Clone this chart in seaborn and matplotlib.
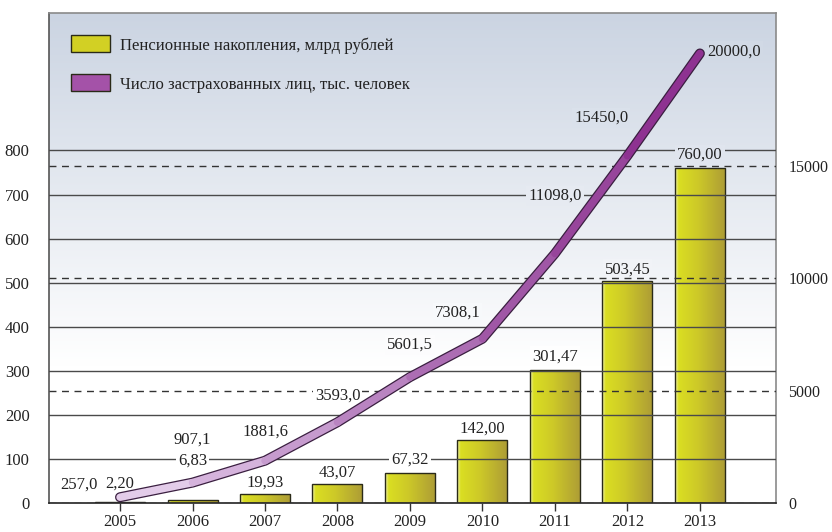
import numpy as np
import matplotlib
matplotlib.use("Agg")
import matplotlib.pyplot as plt
import seaborn as sns
from matplotlib.colors import LinearSegmentedColormap, to_rgb
from matplotlib.collections import LineCollection
from matplotlib.patches import Patch

years = ["2005", "2006", "2007", "2008", "2009", "2010", "2011", "2012", "2013"]
savings = [2.20, 6.83, 19.93, 43.07, 67.32, 142.00, 301.47, 503.45, 760.00]
insured = [257.0, 907.1, 1881.6, 3593.0, 5601.5, 7308.1, 11098.0, 15450.0, 20000.0]
savings_text = ["2,20", "6,83", "19,93", "43,07", "67,32", "142,00", "301,47", "503,45", "760,00"]
insured_text = ["257,0", "907,1", "1881,6", "3593,0", "5601,5", "7308,1", "11098,0", "15450,0", "20000,0"]
left_ticks = [0, 100, 200, 300, 400, 500, 600, 700, 800]
right_ticks = [0, 5000, 10000, 15000]
legend_labels = ["Пенсионные накопления, млрд рублей", "Число застрахованных лиц, тыс. человек"]

plt.rcParams["font.family"] = ["Liberation Serif", "DejaVu Serif"]
fs = 12
plt.rcParams["font.size"] = fs
text_col = "#222222"

fig = plt.figure(figsize=(8.32, 5.32), dpi=100)
ax = fig.add_axes([49 / 832, 29 / 532, 727 / 832, 490 / 532])

# background: white at bottom -> light blue-grey at top
top_rgb = np.array(to_rgb("#cbd4e2"))
def bg_color(frac):
    t = np.clip((frac - 0.28) / 0.72, 0, 1)
    return tuple(1 - t * (1 - top_rgb))

fr = np.linspace(0, 1, 256)
bg = np.array([bg_color(f) for f in fr])[::-1].reshape(256, 1, 3)
ax.imshow(bg, extent=(0, 1, 0, 1), transform=ax.transAxes, aspect="auto", zorder=0)

# bars
sns.barplot(x=years, y=savings, ax=ax, width=0.69, color="#cccc22",
            edgecolor="#2a2a18", linewidth=1.0, zorder=1.2)
bar_cmap = LinearSegmentedColormap.from_list(
    "bar", [(0, "#f2f2b0"), (0.07, "#dade22"), (0.45, "#cdc928"), (1, "#ad9c36")])
grad = np.linspace(0, 1, 128).reshape(1, -1)
for p in ax.patches:
    x0, y0 = p.get_x(), p.get_y()
    im = ax.imshow(grad, cmap=bar_cmap, aspect="auto", zorder=1.1,
                   extent=(x0, x0 + p.get_width(), y0, y0 + p.get_height()))
    im.set_clip_path(p)
    p.set_facecolor("none")

ax.set_xlim(-0.98, 9.05)
ax.set_ylim(0, 1112)
ax.set_yticks(left_ticks)
ax.set_axisbelow(False)
ax.yaxis.grid(True, color="#4a4a4a", lw=1.0)
ax.xaxis.grid(False)

ax_h = 490

bar_dy = [18, 39, 12, 11, 14, 12, 14, 12, 13]
for i, (v, s) in enumerate(zip(savings, savings_text)):
    ypix = v / 1112 * ax_h + bar_dy[i]
    ax.annotate(s, (i, v), xytext=(0, bar_dy[i]), textcoords="offset pixels",
                ha="center", va="center", color=text_col, zorder=3, fontsize=fs,
                bbox=dict(boxstyle="square,pad=0.12", fc=bg_color(ypix / ax_h), ec="none"))

# line on right axis
ax2 = ax.twinx()
ax2.set_ylim(0, 21800)
xs = np.arange(len(years))
sns.lineplot(x=xs, y=insured, ax=ax2, color="#3a1f40", lw=7.2, legend=False,
             solid_capstyle="round", solid_joinstyle="round", zorder=4)
line_cmap = LinearSegmentedColormap.from_list("ln", ["#ead8f0", "#c497cc", "#a25aa8", "#8a2a8c"])
pts = np.column_stack([xs, insured])
segs = np.stack([pts[:-1], pts[1:]], axis=1)
seg_cols = [line_cmap((k + 0.5) / (len(segs))) for k in range(len(segs))]
lc = LineCollection(segs, colors=seg_cols, linewidths=5.4, capstyle="round",
                    joinstyle="round", zorder=4.1)
ax2.add_collection(lc)
ax2.set_xlim(-0.98, 9.05)

line_off = [(-41, 13), (0, 43), (0, 29), (0, 27), (0, 32), (-25, 26), (0, 58), (-26, 38), (34, 2)]
for i, (v, s) in enumerate(zip(insured, insured_text)):
    dx, dy = line_off[i]
    ypix = v / 21800 * ax_h + dy
    ax2.annotate(s, (i, v), xytext=(dx, dy), textcoords="offset pixels",
                 ha="center", va="center", color=text_col, zorder=3, fontsize=fs,
                 bbox=dict(boxstyle="square,pad=0.12", fc=bg_color(ypix / ax_h), ec="none"))

ax2.set_yticks(right_ticks)
ax2.yaxis.grid(True, color="#333333", lw=1.0, ls=(0, (5, 4)))
ax2.set_axisbelow("line")

# ticks and spines
ax.tick_params(axis="y", length=0, pad=14, labelsize=fs, labelcolor=text_col)
ax2.tick_params(axis="y", length=0, pad=9, labelsize=11.5, labelcolor=text_col)
ax.tick_params(axis="x", length=6, width=1, color="#333333", pad=2, labelsize=fs,
               labelcolor=text_col)
ax2.tick_params(axis="x", bottom=False, labelbottom=False)
for sp in ax2.spines.values():
    sp.set_visible(False)
ax.spines["left"].set_color("#555555")
ax.spines["bottom"].set_color("#222222")
ax.spines["top"].set_color("#8a8a8a")
ax.spines["right"].set_color("#8a8a8a")
for sp in ax.spines.values():
    sp.set_linewidth(1.2)
ax.set_xlabel("")
ax.set_ylabel("")
ax2.set_ylabel("")

handles = [Patch(facecolor="#d2d024", edgecolor="#2a2a18"),
           Patch(facecolor="#a452a8", edgecolor="#2a2a18")]
ax2.legend(handles, legend_labels, loc="upper left", bbox_to_anchor=(0.01, 0.985),
           frameon=False, handlelength=2.35, handleheight=1.2, labelspacing=1.25,
           handletextpad=0.6, fontsize=fs, labelcolor=text_col)

fig.savefig("out.png", dpi=100)
